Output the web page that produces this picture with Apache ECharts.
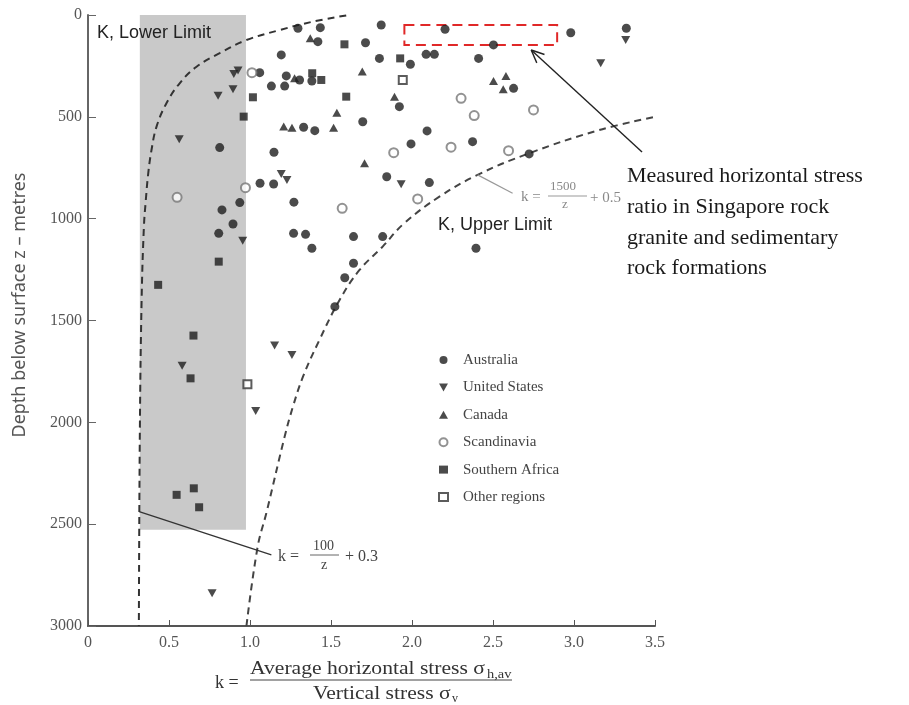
<!DOCTYPE html>
<html><head><meta charset="utf-8">
<script src="https://cdn.jsdelivr.net/npm/echarts@6/dist/echarts.min.js"></script>
<style>html,body{margin:0;padding:0;background:#fff}#c{width:909px;height:705px}</style>
</head><body><div id="c"></div>
<script>
// ---- axis ticks ----
const xTickValues = [0, 0.5, 1.0, 1.5, 2.0, 2.5, 3.0, 3.5];
const xTickLabels = ['0', '0.5', '1.0', '1.5', '2.0', '2.5', '3.0', '3.5'];
const yTickValues = [0, 500, 1000, 1500, 2000, 2500, 3000];
const yTickLabels = ['0', '500', '1000', '1500', '2000', '2500', '3000'];

// ---- series: [k, depth z (m)] ----
const australia = [[1.296,65],[1.434,62],[1.419,131],[1.713,136],[1.810,49],[1.193,196],[1.799,213],[1.060,283],[1.132,349],[1.214,349],[1.224,299],[1.306,319],[1.382,324],[1.331,551],[1.400,568],[1.696,524],[0.813,651],[1.148,674],[1.062,826],[1.146,830],[0.937,921],[1.271,919],[0.827,957],[0.895,1026],[0.807,1072],[1.269,1072],[1.343,1077],[1.382,1145],[1.639,1088],[1.819,1088],[1.639,1219],[1.585,1290],[1.524,1432],[1.990,242],[2.087,193],[2.138,193],[2.204,70],[2.503,147],[2.411,213],[2.980,87],[3.323,65],[1.922,450],[2.627,360],[2.093,569],[1.994,633],[2.374,622],[2.723,682],[1.844,794],[2.107,823],[2.395,1145]];
const unitedStates = [[0.900,290],[0.926,273],[0.803,396],[0.895,365],[0.563,610],[1.193,781],[1.228,810],[0.955,1109],[1.152,1623],[1.259,1669],[0.581,1722],[1.035,1944],[0.766,2839],[3.319,123],[3.165,237],[1.933,831]];
const canada = [[1.372,114],[1.693,278],[1.275,311],[1.536,480],[1.208,548],[1.259,553],[1.516,553],[1.707,728],[1.892,401],[2.503,324],[2.580,299],[2.563,365]];
const scandinavia = [[1.012,283],[0.972,848],[0.550,895],[1.569,949],[2.303,409],[2.384,494],[2.750,466],[2.241,649],[1.887,676],[2.596,666],[2.035,903]];
const southernAfrica = [[1.583,144],[1.384,286],[1.440,319],[1.594,401],[1.018,404],[0.961,499],[1.927,213],[0.807,1211],[0.433,1325],[0.651,1574],[0.633,1784],[0.547,2356],[0.653,2324],[0.686,2417]];
const otherRegions = [[1.943,319],[0.984,1813]];

// ---- limit curves ----
const lowerLimit = [[1.594,2],[1.386,33],[1.183,74],[0.978,123],[0.813,187],[0.670,254],[0.567,334],[0.485,432],[0.423,548],[0.392,663],[0.372,776],[0.357,908],[0.345,1041],[0.331,1399],[0.320,2052],[0.314,3000]];
const upperLimit = [[0.978,3000],[1.047,2612],[1.101,2445],[1.214,2070],[1.265,1923],[1.327,1776],[1.429,1595],[1.553,1399],[1.676,1252],[1.819,1137],[1.947,1026],[2.169,892],[2.405,785],[2.723,679],[3.155,565],[3.494,501]];

// ---- annotation anchors (data coords) ----
const grayBand = [[0.32, 0], [0.975, 2528]];
const redBox = [[1.953, 49], [2.896, 147]];
const lowerLeader = [[0.316, 2438], [1.132, 2651]];
const upperLeader = [[2.405, 785], [2.621, 875]];
const arrowTail = [3.42, 673];
const arrowHead = [2.736, 172];

const legendNames = ['Australia', 'United States', 'Canada', 'Scandinavia', 'Southern Africa', 'Other regions'];
const annotationLines = ['Measured horizontal stress', 'ratio in Singapore rock', 'granite and sedimentary', 'rock formations'];

const downTri = 'path://M0,0L10,0L5,9Z';
const serif = '"Liberation Serif","Times New Roman",serif';
const sans = '"Liberation Sans",Arial,sans-serif';

const chart = echarts.init(document.getElementById('c'), null, {renderer: 'canvas'});

function sc(name, data, symbol, size, style) {
  return {name, type: 'scatter', data, symbol, symbolSize: size, z: 5,
    itemStyle: style, emphasis: {disabled: true}};
}

const option = {
  animation: false,
  backgroundColor: '#fff',
  grid: {left: 88, right: 254, top: 15, bottom: 79},
  xAxis: {
    type: 'value', min: 0, max: 3.5, interval: 0.5, position: 'bottom',
    axisLine: {show: true, onZero: false, lineStyle: {color: '#555', width: 2}},
    axisTick: {show: true, inside: true, length: 6, lineStyle: {color: '#555', width: 1}},
    splitLine: {show: false},
    axisLabel: {margin: 9, color: '#555', fontFamily: serif, fontSize: 16,
      formatter: v => { const i = xTickValues.findIndex(t => Math.abs(t - v) < 1e-9); return i >= 0 ? xTickLabels[i] : ''; }}
  },
  yAxis: {
    type: 'value', min: 0, max: 3000, interval: 500, inverse: true,
    axisLine: {show: true, onZero: false, lineStyle: {color: '#666', width: 2}},
    axisTick: {show: true, inside: true, length: 8, lineStyle: {color: '#666', width: 1}},
    splitLine: {show: false},
    axisLabel: {margin: 6, color: '#555', fontFamily: serif, fontSize: 16,
      formatter: v => { const i = yTickValues.indexOf(v); return i >= 0 ? yTickLabels[i] : ''; }}
  },
  legend: {
    data: legendNames, orient: 'vertical', left: 433, top: 347,
    itemWidth: 9, itemHeight: 8, itemGap: 11.4,
    textStyle: {fontFamily: serif, fontSize: 15, color: '#444', lineHeight: 16, padding: [0, 0, 0, 10]},
    selectedMode: false
  },
  series: [
    {name: 'band', type: 'line', data: [], z: 1, silent: true,
      markArea: {silent: true, itemStyle: {color: '#c9c9c9'},
        data: [[{coord: grayBand[0]}, {coord: grayBand[1]}]]}},
    {name: 'lower', type: 'line', data: lowerLimit, smooth: 0.4, showSymbol: false, z: 3, silent: true,
      lineStyle: {color: '#333', width: 2, type: [7, 5]}},
    {name: 'upper', type: 'line', data: upperLimit, smooth: 0.4, showSymbol: false, z: 3, silent: true,
      lineStyle: {color: '#444', width: 2, type: [7, 5]}},
    {name: 'lowerLeader', type: 'line', data: lowerLeader, showSymbol: false, z: 3, silent: true,
      lineStyle: {color: '#333', width: 1.3}},
    {name: 'upperLeader', type: 'line', data: upperLeader, showSymbol: false, z: 3, silent: true,
      lineStyle: {color: '#999', width: 1.2}},
    sc('Australia', australia, 'circle', 9, {color: '#1e1e1e'}),
    sc('United States', unitedStates, downTri, [9, 8], {color: '#1e1e1e'}),
    sc('Canada', canada, 'triangle', [9, 8], {color: '#1e1e1e'}),
    sc('Scandinavia', scandinavia, 'emptyCircle', 9, {color: '#777', borderWidth: 1.5}),
    sc('Southern Africa', southernAfrica, 'rect', 8, {color: '#1e1e1e'}),
    sc('Other regions', otherRegions, 'emptyRect', 8, {color: '#333', borderWidth: 1.3}),
    {name: 'box', type: 'line', data: [], z: 6, silent: true,
      markArea: {silent: true,
        itemStyle: {color: 'rgba(0,0,0,0)', borderColor: '#e02828', borderWidth: 2, borderType: [10, 6]},
        data: [[{coord: redBox[0]}, {coord: redBox[1]}]]}}
  ]
};
chart.setOption(option);

// ---- graphic annotations ----
const g = [];
function txt(x, y, text, font, size, color, extra) {
  g.push(Object.assign({type: 'text', x, y, silent: true, z: 10,
    style: {text, font: size + 'px ' + font, fill: color, textAlign: 'left', textVerticalAlign: 'middle'}}, extra || {}));
}
function ln(x1, y1, x2, y2, color, w) {
  g.push({type: 'line', silent: true, z: 10, shape: {x1, y1, x2, y2}, style: {stroke: color, lineWidth: w}});
}
txt(97, 33, 'K, Lower Limit', sans, 18, '#222');
txt(438, 225, 'K, Upper Limit', sans, 18, '#222');
// y axis name
g.push({type: 'text', x: 20, y: 305, rotation: Math.PI / 2, silent: true, z: 10,
  style: {text: 'Depth below surface z \u2013 metres', font: '18px "Noto Sans",sans-serif', fill: '#555', textAlign: 'center', textVerticalAlign: 'middle'}});
// x axis name (fraction)
txt(215, 683, 'k =', serif, 18, '#333');
txt(250, 669, 'Average horizontal stress \u03c3', serif, 18, '#333', {scaleX: 1.2});
txt(487, 675, 'h,av', serif, 12, '#333', {scaleX: 1.2});
ln(250, 680, 512, 680, '#444', 1.2);
txt(313, 694, 'Vertical stress \u03c3', serif, 18, '#333', {scaleX: 1.2});
txt(452, 699, 'v', serif, 12, '#333');
// lower formula
txt(278, 557, 'k =', serif, 16, '#444');
txt(313, 546, '100', serif, 14, '#444');
ln(310, 555, 339, 555, '#666', 1);
txt(321, 565, 'z', serif, 14, '#444');
txt(345, 557, '+ 0.3', serif, 16, '#444');
// upper formula
txt(521, 197, 'k =', serif, 15, '#888');
txt(550, 187, '1500', serif, 13, '#888');
ln(548, 196, 587, 196, '#999', 1);
txt(562, 205, 'z', serif, 13, '#888');
txt(590, 198, '+ 0.5', serif, 15, '#888');
// annotation text
const annY = [176, 207, 238, 268];
annotationLines.forEach((s, i) => txt(627, annY[i], s, serif, 22, '#1a1a1a'));
// arrow
const pT = chart.convertToPixel({gridIndex: 0}, arrowTail);
const pH = chart.convertToPixel({gridIndex: 0}, arrowHead);
ln(pT[0], pT[1], pH[0], pH[1], '#222', 1.4);
const dx = pH[0] - pT[0], dy = pH[1] - pT[1], L = Math.hypot(dx, dy);
const ux = dx / L, uy = dy / L, wl = 14, th = 24 * Math.PI / 180;
[th, -th].forEach(a => {
  const rx = ux * Math.cos(a) - uy * Math.sin(a), ry = ux * Math.sin(a) + uy * Math.cos(a);
  ln(pH[0], pH[1], pH[0] - wl * rx, pH[1] - wl * ry, '#222', 1.4);
});
chart.setOption({graphic: {elements: g}});
</script></body></html>
